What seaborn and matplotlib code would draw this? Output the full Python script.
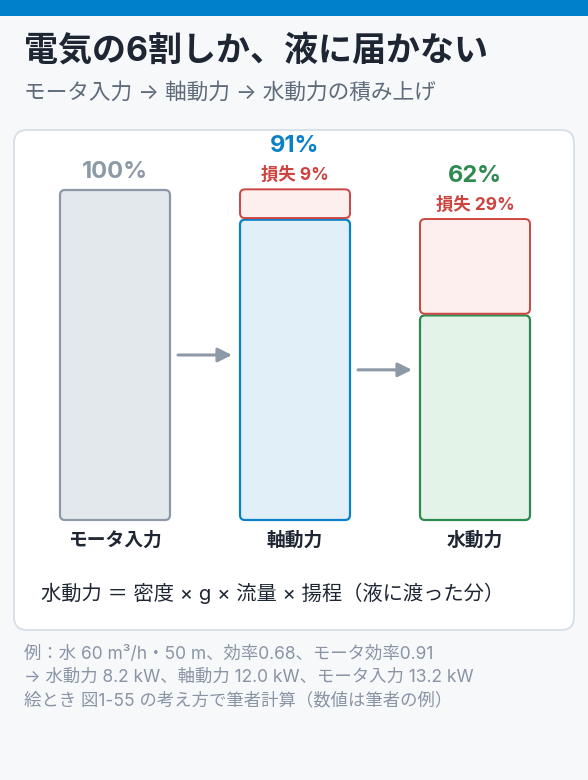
import numpy as np
import pandas as pd
import matplotlib
matplotlib.use("Agg")
import matplotlib.pyplot as plt
import seaborn as sns
from matplotlib.patches import FancyBboxPatch, Rectangle

# data
stages = ["モータ入力", "軸動力", "水動力"]
values = [100, 91, 62]
losses = [0, 9, 29]
pct_labels = ["100%", "91%", "62%"]
loss_labels = ["", "損失 9%", "損失 29%"]

title = "電気の6割しか、液に届かない"
subtitle = "モータ入力 → 軸動力 → 水動力の積み上げ"
formula = "水動力 ＝ 密度 × g × 流量 × 揚程（液に渡った分）"
notes = [
    "例：水 60 m³/h・50 m、効率0.68、モータ効率0.91",
    "→ 水動力 8.2 kW、軸動力 12.0 kW、モータ入力 13.2 kW",
    "絵とき 図1-55 の考え方で筆者計算（数値は筆者の例）",
]

# colours
bg = "#F6F8FA"
dark = "#1F2633"
edge_cols = ["#8E99A8", "#0A80C8", "#2E8A50"]
fill_cols = ["#E3E8ED", "#E1EFF9", "#E4F3E7"]
loss_edge = "#CC4541"
loss_fill = "#FCEFED"

sns.set_theme(style="white")
plt.rcParams["font.family"] = ["Inter", "Noto Sans CJK JP", "DejaVu Sans"]

W, H = 588, 780
fig = plt.figure(figsize=(W / 100, H / 100), dpi=100)
fig.patch.set_facecolor(bg)

# overlay axes in pixel coords for the frame / text
deco = fig.add_axes([0, 0, 1, 1])
deco.set_xlim(0, W)
deco.set_ylim(H, 0)
deco.axis("off")
deco.add_patch(Rectangle((0, 0), W, 16, color="#0080C8", lw=0))
deco.add_patch(FancyBboxPatch((14, 130), 560, 500,
                              boxstyle="round,pad=0,rounding_size=13",
                              fc="white", ec="#D6DEE7", lw=1.3))
deco.text(24, 51, title, fontsize=24.5, fontweight="bold", color=dark,
          va="center", ha="left")
deco.text(24, 92, subtitle, fontsize=15.6, color="#5F6B7A", va="center", ha="left")
deco.text(41, 593, formula, fontsize=14.6, color=dark, va="center", ha="left")
for i, line in enumerate(notes):
    deco.text(24, 654 + i * 23.5, line, fontsize=12.5, color="#8A94A5",
              va="center", ha="left")

# bar axes: y 0..100 maps to px 520..190, x centres at 115/295/475
ax = fig.add_axes([25 / W, (H - 520) / H, 540 / W, 330 / H])
ax.set_xlim(-0.5, 2.5)
ax.set_ylim(0, 100)
ax.patch.set_alpha(0)
ax.axis("off")

df = pd.DataFrame({"stage": stages, "value": values, "loss": losses})
bw = 110 / 180
sns.barplot(data=df, x="stage", y="value", order=stages, width=bw, ax=ax)
main_bars = list(ax.patches)
sns.barplot(data=df, x="stage", y="loss", order=stages, width=bw, ax=ax)
loss_bars = [p for p in ax.patches if p not in main_bars]
ax.set_xlim(-0.5, 2.5)
ax.set_ylim(0, 100)

px_x, px_y = 180, 3.3
r = 5 / px_x
asp = px_x / px_y

for i, p in enumerate(main_bars):
    x, w, h = p.get_x(), p.get_width(), p.get_height()
    p.remove()
    ax.add_patch(FancyBboxPatch((x, 0), w, h,
                                boxstyle=f"round,pad=0,rounding_size={r}",
                                mutation_aspect=asp, fc=fill_cols[i],
                                ec=edge_cols[i], lw=1.6, clip_on=False, zorder=3))

for i, p in enumerate(loss_bars):
    x, w, h = p.get_x(), p.get_width(), p.get_height()
    p.remove()
    if h <= 0:
        continue
    ax.add_patch(FancyBboxPatch((x, values[i] + 0.5), w, h - 0.3,
                                boxstyle=f"round,pad=0,rounding_size={r}",
                                mutation_aspect=asp, fc=loss_fill,
                                ec=loss_edge, lw=1.4, clip_on=False, zorder=3))

# labels above bars
for i in range(len(stages)):
    top = values[i] + losses[i]
    if losses[i] > 0:
        ax.text(i, top + 11.5, pct_labels[i], ha="center", va="baseline",
                fontsize=17, fontweight="bold", color=edge_cols[i], clip_on=False)
        ax.text(i, top + 3.0, loss_labels[i], ha="center", va="baseline",
                fontsize=12.5, fontweight="bold", color=loss_edge, clip_on=False)
    else:
        ax.text(i, top + 3.6, pct_labels[i], ha="center", va="baseline",
                fontsize=17, fontweight="bold", color=edge_cols[i], clip_on=False)
    ax.text(i, -6.2, stages[i], ha="center", va="center", fontsize=13.5,
            fontweight="bold", color=dark, clip_on=False)

# arrows between bars at half of the source bar
gap = 8 / px_x
for i in range(len(stages) - 1):
    y = values[i] / 2
    ax.annotate("", xy=(i + 1 - bw / 2 - gap, y), xytext=(i + bw / 2 + gap, y),
                arrowprops=dict(arrowstyle="-|>,head_length=0.7,head_width=0.35",
                                color="#8E99A8", lw=2.2, shrinkA=0, shrinkB=0),
                annotation_clip=False)

fig.savefig("out.png", dpi=100, facecolor=bg)
